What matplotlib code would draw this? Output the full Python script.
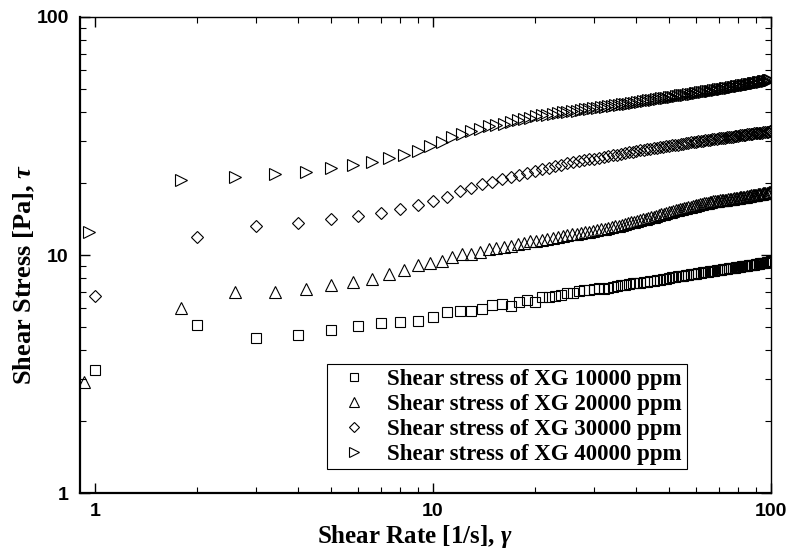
import numpy as np
import matplotlib
matplotlib.use("Agg")
import matplotlib.pyplot as plt
from matplotlib.ticker import LogLocator, NullFormatter, FixedLocator

# shear rate grids
rate_step1 = [1, 2, 3, 4, 5, 6, 7, 8, 9, 10, 11, 12, 13, 14, 15, 16, 17, 18, 19, 20,
              21, 22, 23, 24, 25, 26, 27, 28, 29, 30, 31, 32, 33, 34, 35, 36, 37, 38, 39, 40,
              41, 42, 43, 44, 45, 46, 47, 48, 49, 50, 51, 52, 53, 54, 55, 56, 57, 58, 59, 60,
              61, 62, 63, 64, 65, 66, 67, 68, 69, 70, 71, 72, 73, 74, 75, 76, 77, 78, 79, 80,
              81, 82, 83, 84, 85, 86, 87, 88, 89, 90, 91, 92, 93, 94, 95, 96, 97, 98, 99, 100]

rate_step08 = [1.8, 2.6, 3.4, 4.2, 5.0, 5.8, 6.6, 7.4, 8.2, 9.0,
               9.8, 10.6, 11.4, 12.2, 13.0, 13.8, 14.6, 15.4, 16.2, 17.0,
               17.8, 18.6, 19.4, 20.2, 21.0, 21.8, 22.6, 23.4, 24.2, 25.0,
               25.8, 26.6, 27.4, 28.2, 29.0, 29.8, 30.6, 31.4, 32.2, 33.0,
               33.8, 34.6, 35.4, 36.2, 37.0, 37.8, 38.6, 39.4, 40.2, 41.0,
               41.8, 42.6, 43.4, 44.2, 45.0, 45.8, 46.6, 47.4, 48.2, 49.0,
               49.8, 50.6, 51.4, 52.2, 53.0, 53.8, 54.6, 55.4, 56.2, 57.0,
               57.8, 58.6, 59.4, 60.2, 61.0, 61.8, 62.6, 63.4, 64.2, 65.0,
               65.8, 66.6, 67.4, 68.2, 69.0, 69.8, 70.6, 71.4, 72.2, 73.0,
               73.8, 74.6, 75.4, 76.2, 77.0, 77.8, 78.6, 79.4, 80.2, 81.0,
               81.8, 82.6, 83.4, 84.2, 85.0, 85.8, 86.6, 87.4, 88.2, 89.0,
               89.8, 90.6, 91.4, 92.2, 93.0, 93.8, 94.6, 95.4, 96.2, 97.0,
               97.8, 98.6, 99.4]

rate_10k = rate_step1
rate_20k = [0.93] + rate_step08
rate_30k = rate_step1
rate_40k = [0.96] + rate_step08

stress_10k = [3.3, 5.1, 4.5, 4.6, 4.85, 5.05, 5.2, 5.22, 5.3, 5.5,
              5.78, 5.84, 5.8, 5.93, 6.16, 6.22, 6.1, 6.35, 6.47, 6.35,
              6.66, 6.66, 6.73, 6.79, 6.92, 6.92, 7.06, 7.13, 7.15, 7.19,
              7.25, 7.2, 7.3, 7.35, 7.4, 7.48, 7.45, 7.55, 7.6, 7.62,
              7.65, 7.7, 7.72, 7.75, 7.8, 7.85, 7.84, 7.9, 7.95, 8.0,
              8.05, 8.1, 8.15, 8.15, 8.2, 8.22, 8.25, 8.3, 8.32, 8.35,
              8.38, 8.42, 8.45, 8.5, 8.52, 8.55, 8.57, 8.6, 8.62, 8.65,
              8.67, 8.7, 8.72, 8.75, 8.78, 8.8, 8.83, 8.85, 8.88, 8.9,
              8.93, 8.95, 8.98, 9.0, 9.03, 9.05, 9.08, 9.1, 9.12, 9.15,
              9.18, 9.2, 9.22, 9.25, 9.27, 9.3, 9.32, 9.35, 9.37, 9.4]

stress_20k = [2.93,
              6.0, 7.0, 7.0, 7.2, 7.45, 7.7, 7.95, 8.3, 8.65, 9.05,
              9.25, 9.4, 9.8, 10.1, 10.1, 10.25, 10.6, 10.7, 10.8, 10.95,
              11.1, 11.25, 11.4, 11.5, 11.6, 11.7, 11.8, 11.9, 12.0, 12.1,
              12.2, 12.3, 12.35, 12.45, 12.5, 12.6, 12.7, 12.8, 12.9, 13.0,
              13.1, 13.2, 13.3, 13.4, 13.5, 13.6, 13.7, 13.8, 13.9, 14.0,
              14.1, 14.2, 14.3, 14.4, 14.5, 14.6, 14.7, 14.8, 14.9, 15.0,
              15.1, 15.2, 15.3, 15.4, 15.5, 15.55, 15.65, 15.7, 15.8, 15.9,
              15.95, 16.05, 16.1, 16.2, 16.25, 16.35, 16.4, 16.5, 16.55, 16.6,
              16.7, 16.75, 16.8, 16.8, 16.85, 16.9, 16.95, 17.0, 17.0, 17.05,
              17.1, 17.15, 17.2, 17.2, 17.25, 17.3, 17.35, 17.4, 17.4, 17.45,
              17.5, 17.55, 17.6, 17.6, 17.65, 17.7, 17.75, 17.8, 17.8, 17.85,
              17.9, 17.95, 18.0, 18.0, 18.05, 18.1, 18.15, 18.2, 18.2, 18.25,
              18.3, 18.35, 18.4]

stress_30k = [6.75, 11.9, 13.2, 13.6, 14.1, 14.6, 15.0, 15.6, 16.2, 16.8,
              17.5, 18.5, 19.2, 19.8, 20.3, 20.8, 21.3, 21.7, 22.1, 22.5,
              22.9, 23.3, 23.6, 24.0, 24.3, 24.5, 24.8, 25.0, 25.2, 25.4,
              25.6, 25.8, 26.0, 26.2, 26.4, 26.6, 26.8, 27.0, 27.2, 27.4,
              27.5, 27.7, 27.8, 28.0, 28.1, 28.2, 28.4, 28.5, 28.6, 28.7,
              28.9, 29.0, 29.1, 29.2, 29.3, 29.5, 29.6, 29.7, 29.8, 29.9,
              30.0, 30.1, 30.2, 30.3, 30.4, 30.5, 30.6, 30.7, 30.8, 30.9,
              31.0, 31.0, 31.1, 31.2, 31.3, 31.4, 31.4, 31.5, 31.6, 31.7,
              31.8, 31.8, 31.9, 32.0, 32.1, 32.1, 32.2, 32.3, 32.4, 32.4,
              32.5, 32.6, 32.7, 32.7, 32.8, 32.9, 33.0, 33.0, 33.1, 33.2]

stress_40k = [12.5,
              20.7, 21.2, 21.9, 22.4, 23.1, 23.9, 24.7, 25.5, 26.3, 27.4,
              28.8, 29.9, 31.2, 32.2, 33.2, 34.0, 34.7, 35.2, 35.6, 36.2,
              36.8, 37.3, 37.8, 38.2, 38.6, 38.9, 39.3, 39.5, 39.8, 40.0,
              40.2, 40.4, 40.6, 40.9, 41.1, 41.3, 41.5, 41.7, 41.9, 42.1,
              42.3, 42.5, 42.7, 42.9, 43.1, 43.3, 43.5, 43.7, 43.9, 44.1,
              44.3, 44.5, 44.6, 44.8, 45.0, 45.2, 45.3, 45.5, 45.7, 45.8,
              46.0, 46.2, 46.3, 46.5, 46.6, 46.8, 46.9, 47.1, 47.2, 47.4,
              47.5, 47.7, 47.8, 48.0, 48.1, 48.2, 48.4, 48.5, 48.7, 48.8,
              48.9, 49.1, 49.2, 49.3, 49.5, 49.6, 49.7, 49.9, 50.0, 50.1,
              50.3, 50.4, 50.5, 50.7, 50.8, 50.9, 51.1, 51.2, 51.3, 51.5,
              51.6, 51.7, 51.9, 52.0, 52.1, 52.3, 52.4, 52.5, 52.7, 52.8,
              52.9, 53.0, 53.2, 53.3, 53.4, 53.5, 53.7, 53.8, 53.9, 54.0,
              54.2, 54.3, 54.4]

labels = ["Shear stress of XG 10000 ppm", "Shear stress of XG 20000 ppm",
          "Shear stress of XG 30000 ppm", "Shear stress of XG 40000 ppm"]

plt.rcParams['mathtext.fontset'] = 'custom'
plt.rcParams['mathtext.it'] = 'Liberation Serif:italic:bold'
plt.rcParams['mathtext.rm'] = 'Liberation Serif:bold'

fig = plt.figure(figsize=(7.91, 5.50), dpi=100)
ax = fig.add_axes([0.1011, 0.1036, 0.8736, 0.8655])

series = [(rate_10k, stress_10k, 's', 6.5),
          (rate_20k, stress_20k, '^', 8.5),
          (rate_30k, stress_30k, 'D', 6.0),
          (rate_40k, stress_40k, '>', 8.5)]
for (x, y, m, ms), lab in zip(series, labels):
    ax.plot(x, y, linestyle='none', marker=m, markersize=ms, markerfacecolor='none',
            markeredgecolor='black', markeredgewidth=0.8, label=lab)

ax.set_xscale('log')
ax.set_yscale('log')
ax.set_xlim(0.903, 100)
ax.set_ylim(1, 100)

ax.xaxis.set_major_locator(FixedLocator([1, 10, 100]))
ax.yaxis.set_major_locator(FixedLocator([1, 10, 100]))
ax.xaxis.set_minor_locator(LogLocator(base=10, subs=np.arange(2, 10)))
ax.yaxis.set_minor_locator(LogLocator(base=10, subs=np.arange(2, 10)))
ax.xaxis.set_minor_formatter(NullFormatter())
ax.yaxis.set_minor_formatter(NullFormatter())
ax.set_xticklabels(['1', '10', '100'])
ax.set_yticklabels(['1', '10', '100'])

ax.tick_params(which='both', direction='in', top=True, right=True, colors='black')
ax.tick_params(which='major', length=7, width=1.0)
ax.tick_params(which='minor', length=4, width=0.8)
ax.tick_params(axis='x', which='major', pad=7)
ax.tick_params(axis='y', which='major', pad=8)
for t in ax.get_xticklabels() + ax.get_yticklabels():
    t.set_fontfamily('Liberation Sans')
    t.set_fontweight('bold')
    t.set_fontsize(14)

ax.spines['left'].set_linewidth(1.6)
ax.spines['bottom'].set_linewidth(1.6)
ax.spines['top'].set_linewidth(1.0)
ax.spines['right'].set_linewidth(1.0)

ax.set_xlabel(r'Shear Rate [1/s], $\gamma$', fontfamily='Liberation Serif',
              fontweight='bold', fontsize=18)
ax.set_ylabel(r'Shear Stress [Pa], $\tau$', fontfamily='Liberation Serif',
              fontweight='bold', fontsize=19)
ax.xaxis.set_label_coords(0.485, -0.064)
ax.yaxis.set_label_coords(-0.062, 0.46)

leg = ax.legend(loc='lower left', bbox_to_anchor=(0.357, 0.050), borderaxespad=0,
                prop={'family': 'Liberation Serif', 'weight': 'bold', 'size': 16.5},
                frameon=True, fancybox=False, edgecolor='black', framealpha=1,
                handlelength=2.0, handletextpad=0.45, borderpad=0.2, labelspacing=0.17,
                markerscale=0.8)
leg.get_frame().set_linewidth(0.8)

fig.savefig('out.png', dpi=100)
